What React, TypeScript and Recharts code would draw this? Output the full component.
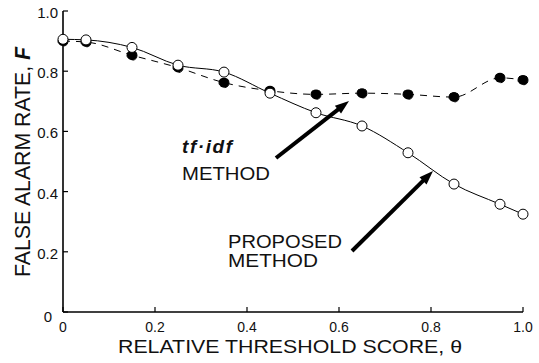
import { ComposedChart, Line, XAxis, YAxis, Label } from "recharts";

// threshold scores and false alarm rates
const thresholds = [0, 0.05, 0.15, 0.25, 0.35, 0.45, 0.55, 0.65, 0.75, 0.85, 0.95, 1.0];
const tfidfRate = [0.9, 0.897, 0.853, 0.812, 0.762, 0.735, 0.723, 0.727, 0.723, 0.714, 0.778, 0.771];
const proposedRate = [0.906, 0.904, 0.879, 0.82, 0.797, 0.727, 0.662, 0.618, 0.529, 0.425, 0.358, 0.325];
const xTicks = [0, 0.2, 0.4, 0.6, 0.8, 1.0];
const yTicks = [0, 0.2, 0.4, 0.6, 0.8, 1.0];

const data = thresholds.map((t, i) => ({ t, tfidf: tfidfRate[i], proposed: proposedRate[i] }));

const W = 539;
const H = 363;
const LEFT = 63;
const TOP = 11;
const RIGHT = 523;
const BOTTOM = 312;
const FONT = "'Liberation Sans', Arial, sans-serif";

const fmt = (v: number) => (v === 0 ? "0" : v.toFixed(1));

function LeftTick(p: any) {
  const v = p.payload.value;
  return (
    <g>
      <line x1={LEFT} x2={LEFT + 5} y1={p.y} y2={p.y} stroke="#000" strokeWidth={1.2} />
      <text x={LEFT - 5 - (v === 0 ? 6 : 0)} y={p.y} dy={v === 0 ? 10 : 7} textAnchor="end" fontSize={15} fill="#111">
        {fmt(v)}
      </text>
    </g>
  );
}

function BottomTick(p: any) {
  const v = p.payload.value;
  return (
    <g>
      <line x1={p.x} x2={p.x} y1={BOTTOM} y2={BOTTOM - 5} stroke="#000" strokeWidth={1.2} />
      <text x={p.x} y={BOTTOM + 20} textAnchor="middle" fontSize={14} fill="#111">
        {fmt(v)}
      </text>
    </g>
  );
}

function TopTick(p: any) {
  return <line x1={p.x} x2={p.x} y1={TOP} y2={TOP + 5} stroke="#000" strokeWidth={1.2} />;
}

function RightTick(p: any) {
  return <line x1={RIGHT} x2={RIGHT - 5} y1={p.y} y2={p.y} stroke="#000" strokeWidth={1.2} />;
}

function Arrow({ x1, y1, x2, y2 }: { x1: number; y1: number; x2: number; y2: number }) {
  const dx = x2 - x1;
  const dy = y2 - y1;
  const len = Math.sqrt(dx * dx + dy * dy);
  const ux = dx / len;
  const uy = dy / len;
  const hl = 14;
  const hw = 5;
  const bx = x2 - ux * hl;
  const by = y2 - uy * hl;
  const pts = `${x2},${y2} ${bx - uy * hw},${by + ux * hw} ${bx + uy * hw},${by - ux * hw}`;
  return (
    <g>
      <line x1={x1} y1={y1} x2={bx + ux * 2} y2={by + uy * 2} stroke="#000" strokeWidth={4} />
      <polygon points={pts} fill="#000" />
    </g>
  );
}

function XTitle(props: any) {
  const vb = props.viewBox;
  return (
    <text x={vb.x + vb.width / 2 - 3} y={353} textAnchor="middle" fontSize={19} fill="#111" textLength={344} lengthAdjust="spacingAndGlyphs">
      RELATIVE THRESHOLD SCORE, θ
    </text>
  );
}

function YTitle() {
  return (
    <text x={0} y={0} transform={`translate(30, 162) rotate(-90)`} textAnchor="middle" fontSize={22} fill="#111" textLength={230} lengthAdjust="spacingAndGlyphs">
      FALSE ALARM RATE, <tspan fontWeight="bold" fontStyle="italic">F</tspan>
    </text>
  );
}

export default function App() {
  return (
    <div style={{ position: "absolute", left: 0, top: 0, width: W, height: H, background: "#fff", fontFamily: FONT }}>
      <ComposedChart width={W} height={H} data={data} margin={{ top: TOP, right: W - RIGHT, bottom: 0, left: 0 }} style={{ fontFamily: FONT }}>
        <XAxis
          dataKey="t"
          type="number"
          domain={[0, 1]}
          ticks={xTicks}
          height={H - BOTTOM}
          axisLine={{ stroke: "#000", strokeWidth: 1.6 }}
          tickLine={false}
          tick={BottomTick}
        >
          <Label content={XTitle} />
        </XAxis>
        <XAxis
          xAxisId="top"
          dataKey="t"
          type="number"
          orientation="top"
          domain={[0, 1]}
          ticks={xTicks}
          height={0}
          axisLine={{ stroke: "#000", strokeWidth: 1.6 }}
          tickLine={false}
          tick={TopTick}
        />
        <YAxis
          type="number"
          domain={[0, 1]}
          ticks={yTicks}
          width={LEFT}
          axisLine={{ stroke: "#000", strokeWidth: 1.6 }}
          tickLine={false}
          tick={LeftTick}
        >
          <Label content={YTitle} />
        </YAxis>
        <YAxis
          yAxisId="right"
          type="number"
          orientation="right"
          domain={[0, 1]}
          ticks={yTicks}
          width={0}
          axisLine={{ stroke: "#000", strokeWidth: 1.6 }}
          tickLine={false}
          tick={RightTick}
        />
        <Line
          dataKey="tfidf"
          type="monotone"
          stroke="#000"
          strokeWidth={1}
          strokeDasharray="7 6"
          dot={{ r: 5, fill: "#000", stroke: "#000", strokeWidth: 1 }}
          isAnimationActive={false}
        />
        <Line
          dataKey="proposed"
          type="monotone"
          stroke="#000"
          strokeWidth={1}
          dot={{ r: 5, fill: "#fff", stroke: "#000", strokeWidth: 1 }}
          isAnimationActive={false}
        />
      </ComposedChart>
      <svg width={W} height={H} style={{ position: "absolute", left: 0, top: 0, pointerEvents: "none", fontFamily: FONT }}>
        <text x={182} y={153} fontSize={19} fontWeight="bold" fontStyle="italic" fill="#111" textLength={50} lengthAdjust="spacing">
          tf·idf
        </text>
        <text x={182} y={180} fontSize={19} fill="#111" textLength={88} lengthAdjust="spacingAndGlyphs">
          METHOD
        </text>
        <text x={228} y={248} fontSize={19} fill="#111" textLength={114} lengthAdjust="spacingAndGlyphs">
          PROPOSED
        </text>
        <text x={228} y={267} fontSize={19} fill="#111" textLength={90} lengthAdjust="spacingAndGlyphs">
          METHOD
        </text>
        <Arrow x1={276} y1={158} x2={349} y2={101} />
        <Arrow x1={352} y1={251} x2={433} y2={171} />
      </svg>
    </div>
  );
}
